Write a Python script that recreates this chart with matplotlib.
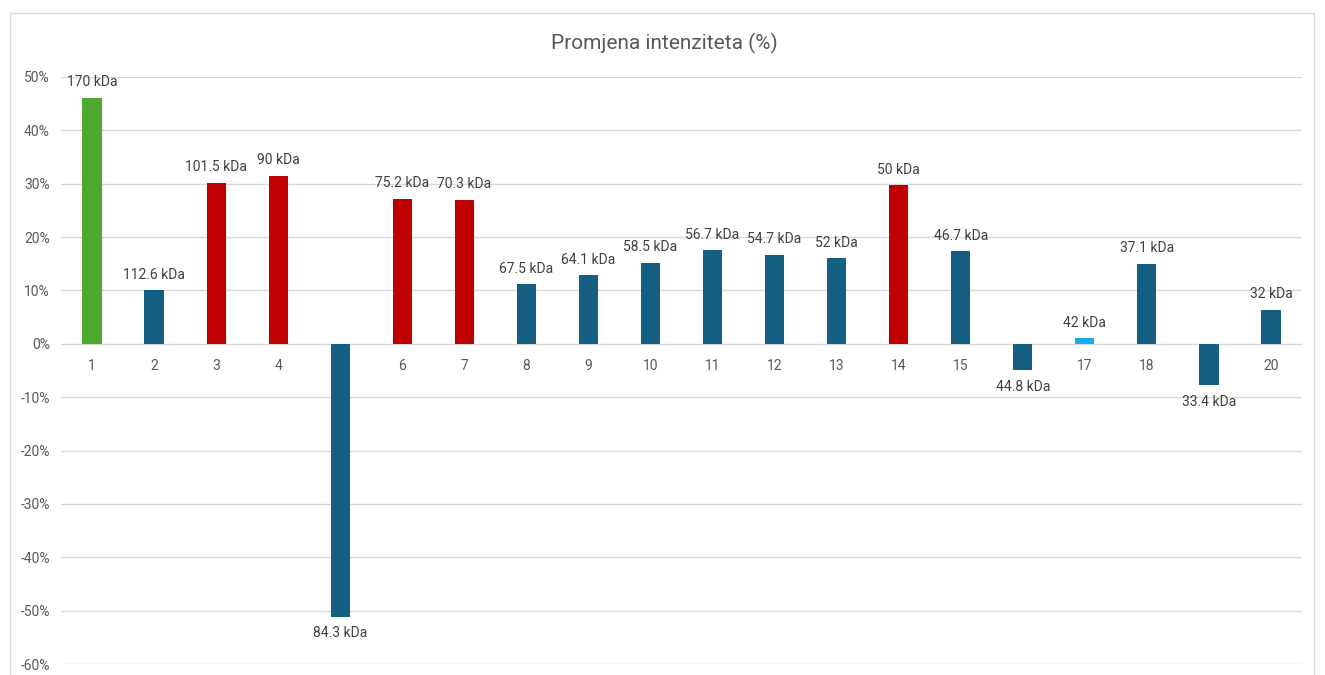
import matplotlib
matplotlib.use("Agg")
import matplotlib.pyplot as plt
from matplotlib.patches import Rectangle
from matplotlib import font_manager

categories = [str(i) for i in range(1, 21)]
values = [46.1, 10.1, 30.2, 31.5, -51.1, 27.2, 27.0, 11.2, 12.9, 15.2,
          17.6, 16.7, 16.1, 29.7, 17.4, -4.9, 1.1, 15.0, -7.7, 6.4]
labels = ["170 kDa", "112.6 kDa", "101.5 kDa", "90 kDa", "84.3 kDa", "75.2 kDa",
          "70.3 kDa", "67.5 kDa", "64.1 kDa", "58.5 kDa", "56.7 kDa", "54.7 kDa",
          "52 kDa", "50 kDa", "46.7 kDa", "44.8 kDa", "42 kDa", "37.1 kDa",
          "33.4 kDa", "32 kDa"]
colors = ["#4EA72E", "#156082", "#C00000", "#C00000", "#156082", "#C00000",
          "#C00000", "#156082", "#156082", "#156082", "#156082", "#156082",
          "#156082", "#C00000", "#156082", "#156082", "#18AEEA", "#156082",
          "#156082", "#156082"]
yticks = [50, 40, 30, 20, 10, 0, -10, -20, -30, -40, -50, -60]
title = "Promjena intenziteta (%)"

avail = {f.name for f in font_manager.fontManager.ttflist}
fam = "Liberation Sans Narrow" if "Liberation Sans Narrow" in avail else "Roboto"
plt.rcParams["font.family"] = [fam, "DejaVu Sans"]

fig = plt.figure(figsize=(13.25, 6.75), dpi=100)
W, H = 1325, 675
fig.patches.append(Rectangle((10 / W, -0.02), 1304 / W, 1 - 13 / H + 0.02,
                             transform=fig.transFigure, fill=False,
                             edgecolor="#D9D9D9", linewidth=1.0))
ax = fig.add_axes([61 / W, 1 - 664 / H, (1302 - 61) / W, (664 - 77) / H])

x = list(range(1, 21))
ax.bar(x, values, width=0.31, color=colors, zorder=2)
ax.set_xlim(0.5, 20.5)
ax.set_ylim(-60, 50)
ax.set_yticks(yticks)
ax.set_yticklabels([f"{t}%" for t in yticks], color="#595959", fontsize=10)
ax.tick_params(axis="y", length=0, pad=8)
ax.set_xticks([])
for s in ax.spines.values():
    s.set_visible(False)
ax.grid(axis="y", color="#D9D9D9", linewidth=1.0, zorder=0)
ax.set_axisbelow(True)

for xi, c in zip(x, categories):
    ax.annotate(c, (xi, 0), xytext=(0, -11), textcoords="offset points",
                ha="center", va="top", fontsize=10, color="#595959", zorder=1)

for xi, v, lab in zip(x, values, labels):
    if v >= 0:
        ax.annotate(lab, (xi, v), xytext=(0, 6), textcoords="offset points",
                    ha="center", va="bottom", fontsize=10, color="#404040", zorder=4)
    else:
        ax.annotate(lab, (xi, v), xytext=(0, -7), textcoords="offset points",
                    ha="center", va="top", fontsize=10, color="#404040", zorder=4)

fig.text(664 / W, 1 - 43 / H, title, ha="center", va="center", fontsize=15,
         color="#595959")

fig.savefig("out.png", dpi=100, facecolor="white")
